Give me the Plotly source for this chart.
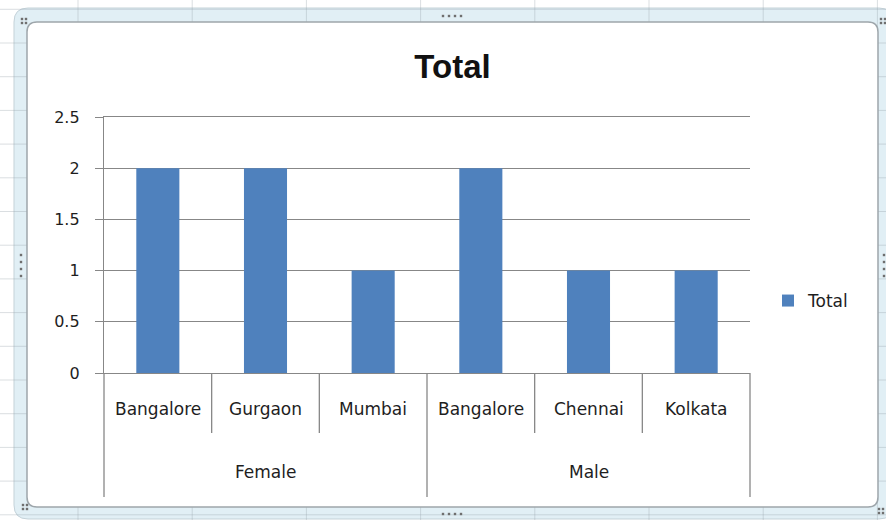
import plotly.graph_objects as go

# Pivot data: count of records per city, grouped by gender
groups = ["Female", "Female", "Female", "Male", "Male", "Male"]
cities = ["Bangalore", "Gurgaon", "Mumbai", "Bangalore", "Chennai", "Kolkata"]
totals = [2, 2, 1, 2, 1, 1]
y_ticks = [0, 0.5, 1, 1.5, 2, 2.5]
series_name = "Total"

W, H = 886, 520
L, R, T, B = 104, 750, 117, 373          # plot-area edges in pixels
BAR = "#4F81BD"
AXIS = "#878787"
TXT = "#1e1e1e"
FONT = "DejaVu Sans"

n = len(cities)
xs = list(range(n))
xmin, xmax = -0.5, n - 0.5


def px(x):
    return (x - L) / (R - L)


def py(y):
    return (B - y) / (B - T)


def data_x_to_paper(xd):
    return (xd - xmin) / (xmax - xmin)


def rrect(x0, y0, x1, y1, r):
    pts = [
        ("M", [(x0 + r, y0)]), ("L", [(x1 - r, y0)]), ("Q", [(x1, y0), (x1, y0 + r)]),
        ("L", [(x1, y1 - r)]), ("Q", [(x1, y1), (x1 - r, y1)]),
        ("L", [(x0 + r, y1)]), ("Q", [(x0, y1), (x0, y1 - r)]),
        ("L", [(x0, y0 + r)]), ("Q", [(x0, y0), (x0 + r, y0)]),
    ]
    s = ""
    for cmd, cs in pts:
        s += cmd + " " + " ".join(f"{px(a):.5f},{py(b):.5f}" for a, b in cs) + " "
    return s + "Z"


fig = go.Figure(
    go.Bar(
        x=xs,
        y=totals,
        name=series_name,
        marker=dict(color=BAR, line=dict(width=0)),
        showlegend=True,
        hoverinfo="skip",
    )
)

shapes = []

# selected-chart frame band
shapes.append(dict(type="path", xref="paper", yref="paper", layer="below",
                   path=rrect(14, 8, 893, 519, 14),
                   fillcolor="#e1eff5", line=dict(color="#c4d2d9", width=1)))

# worksheet cell gridlines showing around the chart
col_lines = [78 + 114.2 * k for k in range(8)]
row_lines = [9.3 + 33.7 * k for k in range(16)]
for cx in col_lines:
    shapes.append(dict(type="line", xref="paper", yref="paper", layer="below",
                       x0=px(cx), x1=px(cx), y0=py(0), y1=py(H),
                       line=dict(color="rgba(150,160,170,0.35)", width=1)))
for ry in row_lines:
    shapes.append(dict(type="line", xref="paper", yref="paper", layer="below",
                       x0=px(0), x1=px(W), y0=py(ry), y1=py(ry),
                       line=dict(color="rgba(150,160,170,0.35)", width=1)))

# chart area
shapes.append(dict(type="path", xref="paper", yref="paper", layer="below",
                   path=rrect(27, 22, 878, 507, 10),
                   fillcolor="white", line=dict(color="#9ea6ab", width=1.5)))

# resize handles
def dots(points):
    for (hx, hy) in points:
        shapes.append(dict(type="rect", xref="paper", yref="paper", layer="above",
                           x0=px(hx - 1.2), x1=px(hx + 1.2), y0=py(hy - 1.2), y1=py(hy + 1.2),
                           fillcolor="#6f6f6f", line=dict(width=0)))

dots([(22, 19), (26, 19), (22, 23), (26, 23)])
dots([(23, 505), (27, 505), (23, 509), (27, 509)])
dots([(881, 19), (885, 19), (881, 23), (885, 23)])
dots([(879, 509), (883, 509), (879, 513), (883, 513)])
dots([(443 + 6 * k, 16) for k in range(4)])
dots([(443 + 6 * k, 514) for k in range(4)])
dots([(21, 255 + 7 * k) for k in range(4)])
dots([(884, 255 + 7 * k) for k in range(4)])

# category dividers below the axis
for i in range(n + 1):
    at_edge = i == 0 or i == n or groups[i - 1] != groups[i]
    length = 124 if at_edge else 60
    xp = data_x_to_paper(i - 0.5)
    shapes.append(dict(type="line", xref="paper", yref="paper", layer="above",
                       x0=xp, x1=xp, ysizemode="pixel", yanchor=0, y0=0, y1=-length,
                       line=dict(color=AXIS, width=1.3)))

annotations = []
for i, c in enumerate(cities):
    annotations.append(dict(x=i, xref="x", y=0, yref="paper", yshift=-36,
                            text=c, showarrow=False, yanchor="middle",
                            font=dict(family=FONT, size=17, color=TXT)))
for g in dict.fromkeys(groups):
    idx = [i for i, gg in enumerate(groups) if gg == g]
    annotations.append(dict(x=sum(idx) / len(idx), xref="x", y=0, yref="paper", yshift=-99,
                            text=g, showarrow=False, yanchor="middle",
                            font=dict(family=FONT, size=17, color=TXT)))

fig.update_layout(
    width=W, height=H,
    margin=dict(l=L, r=W - R, t=T, b=H - B, pad=0),
    paper_bgcolor="white",
    plot_bgcolor="rgba(0,0,0,0)",
    bargap=0.6,
    title=dict(text="<b>Total</b>", x=452.5 / W, xref="container", xanchor="center",
               y=1 - 66 / H, yref="container", yanchor="middle",
               font=dict(family="Liberation Sans", size=33, color="#111111")),
    xaxis=dict(range=[xmin, xmax], showgrid=False, zeroline=False, showticklabels=False,
               ticks="", showline=True, mirror=True, linecolor=AXIS, linewidth=1.3,
               fixedrange=True),
    yaxis=dict(range=[0, 2.5], tickvals=y_ticks, ticktext=[f"{v:g}" for v in y_ticks],
               showgrid=True, gridcolor=AXIS, gridwidth=1.3, zeroline=False,
               showline=True, linecolor=AXIS, linewidth=1.3,
               ticks="outside", ticklen=8, tickcolor=AXIS, tickwidth=1.3,
               ticklabelstandoff=12,
               tickfont=dict(family=FONT, size=16, color=TXT), fixedrange=True),
    legend=dict(x=px(768), xanchor="left", y=py(301), yanchor="middle",
                bgcolor="rgba(0,0,0,0)", font=dict(family=FONT, size=17, color=TXT),
                itemclick=False, itemdoubleclick=False),
    shapes=shapes,
    annotations=annotations,
)

fig.write_html("out.html", config={"displayModeBar": False})
